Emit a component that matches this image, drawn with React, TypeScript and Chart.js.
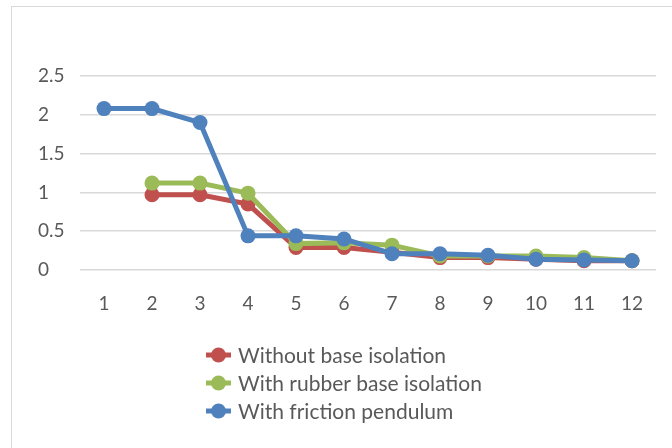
import React, { useEffect, useRef } from "react";
import { Chart, registerables } from "chart.js";

Chart.register(...registerables);

const categories = ["1", "2", "3", "4", "5", "6", "7", "8", "9", "10", "11", "12"];
const seriesLabels = ["Without base isolation", "With rubber base isolation", "With friction pendulum"];
const withoutBase: (number | null)[] = [null, 0.97, 0.97, 0.85, 0.29, 0.29, 0.23, 0.16, 0.16, 0.14, 0.12, 0.12];
const withRubber: (number | null)[] = [null, 1.12, 1.12, 0.99, 0.34, 0.35, 0.32, 0.18, 0.18, 0.18, 0.16, 0.12];
const withFriction: (number | null)[] = [2.08, 2.08, 1.9, 0.44, 0.44, 0.4, 0.21, 0.21, 0.19, 0.14, 0.13, 0.12];
const seriesColors = ["#C0504D", "#9BBB59", "#4F81BD"];

const FONT = "Lato, 'Open Sans', sans-serif";
const TEXT = "#595959";

const legendPlugin = {
  id: "excelLegend",
  afterDraw(chart: any) {
    const ctx = chart.ctx as CanvasRenderingContext2D;
    const x0 = 206;
    const lineLen = 25;
    const textX = 238;
    const rows = [355, 383, 411];
    ctx.save();
    chart.data.datasets.forEach((ds: any, i: number) => {
      const y = rows[i];
      ctx.strokeStyle = ds.borderColor;
      ctx.lineWidth = 5;
      ctx.beginPath();
      ctx.moveTo(x0, y);
      ctx.lineTo(x0 + lineLen, y);
      ctx.stroke();
      ctx.fillStyle = ds.borderColor;
      ctx.beginPath();
      ctx.arc(x0 + lineLen / 2, y, 7.5, 0, Math.PI * 2);
      ctx.fill();
      ctx.fillStyle = TEXT;
      ctx.font = `21px ${FONT}`;
      ctx.textBaseline = "middle";
      ctx.textAlign = "left";
      ctx.fillText(ds.label, textX, y + 1);
    });
    ctx.restore();
  },
};

export default function App() {
  const ref = useRef<HTMLCanvasElement | null>(null);
  useEffect(() => {
    if (!ref.current) return;
    const data = [withoutBase, withRubber, withFriction];
    const chart = new Chart(ref.current, {
      type: "line",
      data: {
        labels: categories,
        datasets: data.map((d, i) => ({
          label: seriesLabels[i],
          data: d,
          borderColor: seriesColors[i],
          backgroundColor: seriesColors[i],
          pointBackgroundColor: seriesColors[i],
          pointBorderWidth: 0,
          pointRadius: 7.5,
          borderWidth: 5,
          order: 3 - i,
          tension: 0,
        })),
      },
      options: {
        animation: false,
        responsive: false,
        layout: { padding: { left: 38, right: 16, top: 76, bottom: 0 } },
        plugins: {
          legend: { display: false },
          tooltip: { enabled: false },
        },
        scales: {
          x: {
            offset: true,
            grid: { display: false },
            border: { display: false },
            ticks: { color: TEXT, font: { family: FONT, size: 19 }, padding: 14 },
            afterFit: (scale: any) => {
              scale.height = 448 - 270;
            },
          },
          y: {
            min: 0,
            max: 2.5,
            ticks: {
              stepSize: 0.5,
              color: TEXT,
              font: { family: FONT, size: 19 },
              crossAlign: "far",
              padding: 8,
              callback: (v: any) => String(+Number(v).toFixed(2)),
            },
            grid: { color: "#D9D9D9", lineWidth: 1.5, drawTicks: false },
            border: { display: false },
            afterFit: (scale: any) => {
              scale.width = 42;
            },
          },
        },
      },
      plugins: [legendPlugin],
    });
    return () => chart.destroy();
  }, []);
  return (
    <div style={{ position: "fixed", left: 0, top: 0, width: 672, height: 448, background: "#fff", overflow: "hidden" }}>
      <div
        style={{
          position: "absolute",
          left: 11,
          top: 6,
          width: 700,
          height: 500,
          border: "1px solid #D9D9D9",
        }}
      />
      <canvas ref={ref} width={672} height={448} style={{ position: "absolute", left: 0, top: 0, width: 672, height: 448 }} />
    </div>
  );
}
